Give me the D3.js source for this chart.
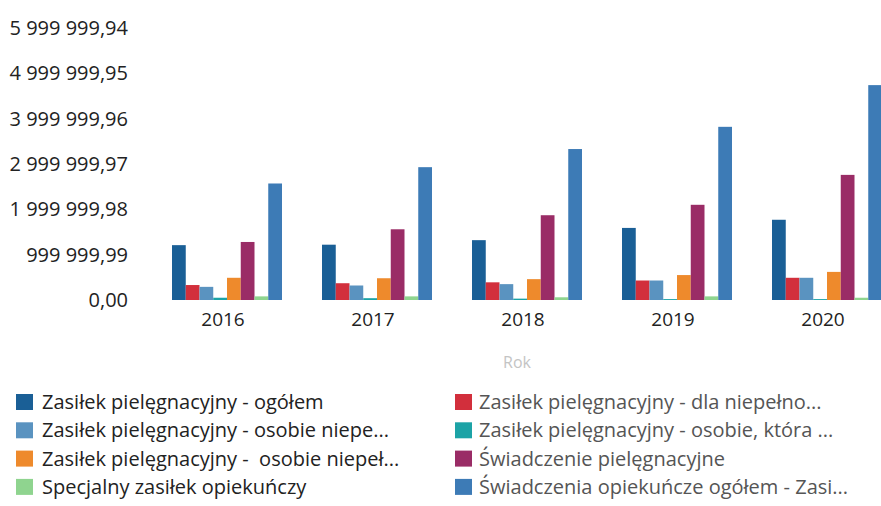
<!DOCTYPE html>
<html>
<head>
<meta charset="utf-8">
<script src="https://cdn.jsdelivr.net/npm/d3@7/dist/d3.min.js"></script>
<style>
  html, body { margin: 0; padding: 0; background: #fff; }
  svg { display: block; font-family: "Open Sans", "DejaVu Sans", sans-serif; }
</style>
</head>
<body>
<svg id="chart" width="881" height="506"></svg>
<script>
// Years on the category axis
const years = ["2016", "2017", "2018", "2019", "2020"];

// Series names (legend text, already shortened as shown)
const seriesNames = [
  "Zasiłek pielęgnacyjny - ogółem",
  "Zasiłek pielęgnacyjny - dla niepełno...",
  "Zasiłek pielęgnacyjny - osobie niepe...",
  "Zasiłek pielęgnacyjny - osobie, która ...",
  "Zasiłek pielęgnacyjny -  osobie niepeł...",
  "Świadczenie pielęgnacyjne",
  "Specjalny zasiłek opiekuńczy",
  "Świadczenia opiekuńcze ogółem - Zasi..."
];

const seriesColors = [
  "#1a5f96", "#d22f3c", "#5a93c0", "#1ca3a6",
  "#ee8a2c", "#9a2c66", "#8fd48f", "#3d7bb6"
];

// Values per series, one entry per year (2016..2020)
const s1 = [1210000, 1220000, 1320000, 1590000, 1770000];
const s2 = [330000, 370000, 390000, 430000, 490000];
const s3 = [290000, 320000, 350000, 430000, 490000];
const s4 = [50000, 40000, 30000, 20000, 20000];
const s5 = [490000, 480000, 460000, 550000, 620000];
const s6 = [1280000, 1560000, 1870000, 2100000, 2760000];
const s7 = [80000, 80000, 60000, 80000, 50000];
const s8 = [2570000, 2930000, 3330000, 3820000, 4740000];
const seriesValues = [s1, s2, s3, s4, s5, s6, s7, s8];

// Tick values on the value axis
const tickValues = [0, 999999.99, 1999999.98, 2999999.97, 3999999.96, 4999999.95, 5999999.94];

const xAxisTitle = "Rok";

const svg = d3.select("#chart");

const plLocale = d3.formatLocale({ decimal: ",", thousands: " ", grouping: [3], currency: ["", ""] });
const fmt = plLocale.format(",.2f");

const y = d3.scaleLinear()
  .domain([0, 5999999.94])
  .range([300, 28]);

const x = d3.scaleBand()
  .domain(years)
  .range([148, 898])
  .padding(0);

const xInner = d3.scaleBand()
  .domain(d3.range(seriesNames.length))
  .range([24, 134])
  .padding(0);

// Value axis (labels only)
const yAxis = d3.axisLeft(y)
  .tickValues(tickValues)
  .tickFormat(fmt)
  .tickSize(0)
  .tickPadding(0);

const yG = svg.append("g")
  .attr("transform", "translate(128,0)")
  .call(yAxis);
yG.select(".domain").remove();
yG.selectAll("text")
  .attr("font-size", 20)
  .attr("fill", "#222")
  .attr("font-family", "Open Sans, DejaVu Sans, sans-serif");

// Bars
const groups = svg.append("g")
  .selectAll("g")
  .data(years)
  .join("g")
  .attr("transform", d => `translate(${x(d)},0)`);

groups.selectAll("rect")
  .data((yr, i) => seriesValues.map((vals, s) => ({ s, v: vals[i] })))
  .join("rect")
  .attr("x", d => xInner(d.s))
  .attr("width", xInner.bandwidth())
  .attr("y", d => y(d.v))
  .attr("height", d => y(0) - y(d.v))
  .attr("fill", d => seriesColors[d.s]);

// Category axis (labels only)
const xAxis = d3.axisBottom(x).tickSize(0).tickPadding(0);
const xG = svg.append("g")
  .attr("transform", "translate(0,312)")
  .call(xAxis);
xG.select(".domain").remove();
xG.selectAll("text")
  .attr("font-size", 19)
  .attr("fill", "#222")
  .attr("dy", "0.71em")
  .attr("font-family", "Open Sans, DejaVu Sans, sans-serif");

// Axis title
svg.append("text")
  .attr("x", 517)
  .attr("y", 368)
  .attr("text-anchor", "middle")
  .attr("font-size", 16)
  .attr("fill", "#c4c4c4")
  .text(xAxisTitle);

// Legend: two columns, filled row by row
const legend = svg.append("g");
const legendItems = legend.selectAll("g")
  .data(seriesNames)
  .join("g")
  .attr("transform", (d, i) => {
    const col = i % 2, row = Math.floor(i / 2);
    return `translate(${col === 0 ? 16 : 455},${409 + row * 28.3})`;
  });

legendItems.append("rect")
  .attr("x", 0)
  .attr("y", -15)
  .attr("width", 17)
  .attr("height", 16)
  .attr("fill", (d, i) => seriesColors[i]);

legendItems.append("text")
  .attr("x", (d, i) => i % 2 === 0 ? 26 : 24)
  .attr("y", 0)
  .attr("font-size", 20)
  .attr("fill", (d, i) => i % 2 === 0 ? "#222" : "#555")
  .attr("xml:space", "preserve")
  .style("white-space", "pre")
  .text(d => d);
</script>
</body>
</html>
